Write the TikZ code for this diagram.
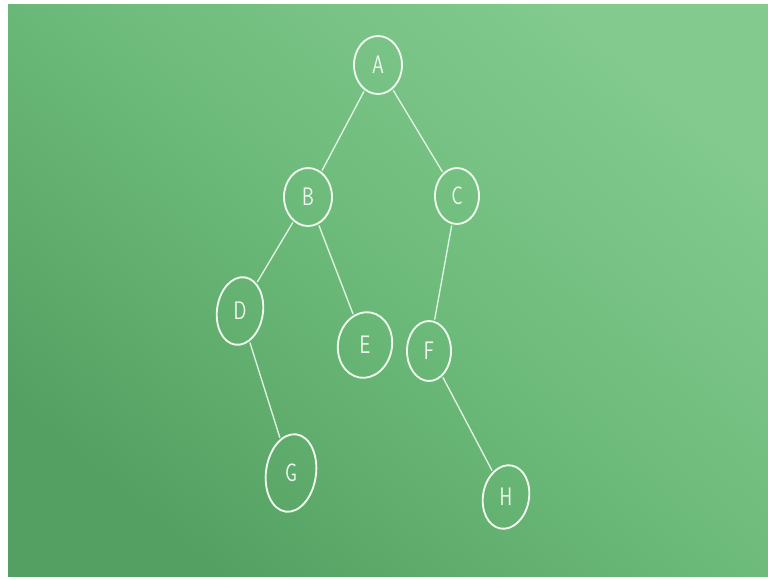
\documentclass[tikz,border=0pt]{standalone}
\usetikzlibrary{shapes.geometric}
\definecolor{boardlight}{RGB}{130,202,142}
\definecolor{boardmid}{RGB}{108,186,122}
\definecolor{boarddark}{RGB}{84,160,98}
\definecolor{chalk}{RGB}{240,250,238}
\tikzset{
  treenode/.style={shape=ellipse, draw=chalk, line width=1.4pt, inner sep=0pt,
    text=chalk, font=\sffamily\fontsize{19}{19}\selectfont},
  branch/.style={draw=chalk, line width=1pt, opacity=0.9, shorten <=1pt, shorten >=1pt}
}
\newcommand{\lbl}[2]{\rotatebox{#1}{\scalebox{0.75}[1]{#2}}}
\begin{document}
\begin{tikzpicture}[x=0.75pt,y=-0.75pt]
\useasboundingbox (0,0) rectangle (768,579);
\fill[white] (0,0) rectangle (768,579);
\shade[top color=boardlight, bottom color=boarddark, middle color=boardmid, shading angle=-40] (8,4) rectangle (768,576);
% nodes
\node[treenode, minimum width=36pt, minimum height=43.5pt] (A) at (378,65) {\lbl{0}{A}};
\node[treenode, minimum width=36pt, minimum height=43.5pt] (B) at (308,197) {\lbl{0}{B}};
\node[treenode, minimum width=33pt, minimum height=42pt] (C) at (457,196) {\lbl{0}{C}};
\node[treenode, minimum width=34.5pt, minimum height=51pt, rotate=-8] (D) at (240,311) {\lbl{8}{D}};
\node[treenode, minimum width=40.5pt, minimum height=49.5pt, rotate=-10] (E) at (365,345) {\lbl{10}{E}};
\node[treenode, minimum width=33pt, minimum height=45pt] (F) at (429,351) {\lbl{0}{F}};
\node[treenode, minimum width=37.5pt, minimum height=58.5pt, rotate=-8] (G) at (291,473) {\lbl{8}{G}};
\node[treenode, minimum width=34.5pt, minimum height=48pt, rotate=-10] (H) at (506,497) {\lbl{10}{H}};
% branches
\draw[branch] (A) -- (B);
\draw[branch] (A) -- (C);
\draw[branch] (B) -- (D);
\draw[branch] (B) -- (E);
\draw[branch] (C) -- (F);
\draw[branch] (D) -- (G);
\draw[branch] (F) -- (H);
\end{tikzpicture}
\end{document}
